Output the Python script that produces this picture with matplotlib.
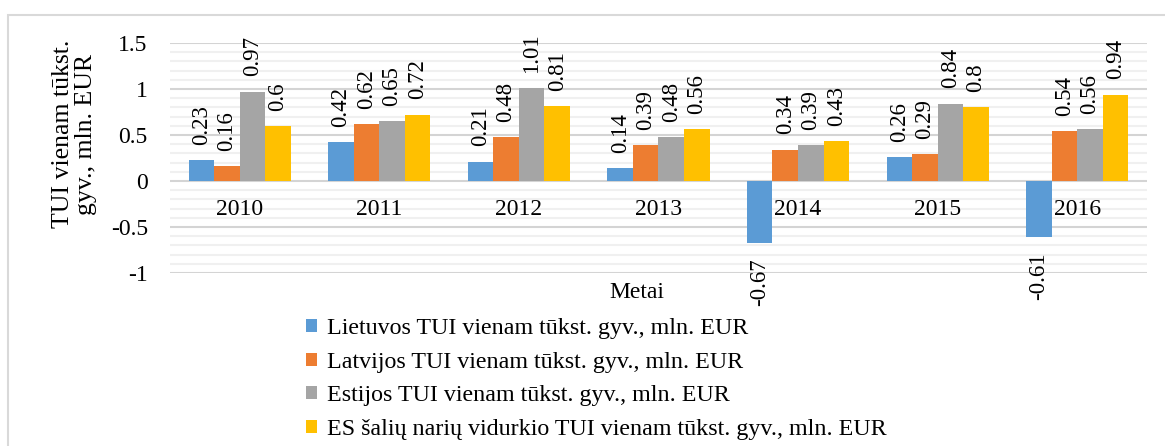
import numpy as np
import matplotlib.pyplot as plt
from matplotlib.patches import Rectangle

plt.rcParams['font.family'] = ['Liberation Serif', 'DejaVu Serif']

years = ["2010", "2011", "2012", "2013", "2014", "2015", "2016"]
lietuva = [0.23, 0.42, 0.21, 0.14, -0.67, 0.26, -0.61]
latvija = [0.16, 0.62, 0.48, 0.39, 0.34, 0.29, 0.54]
estija = [0.97, 0.65, 1.01, 0.48, 0.39, 0.84, 0.56]
es_vid = [0.6, 0.72, 0.81, 0.56, 0.43, 0.8, 0.94]

names = ["Lietuvos TUI vienam tūkst. gyv., mln. EUR",
         "Latvijos TUI vienam tūkst. gyv., mln. EUR",
         "Estijos TUI vienam tūkst. gyv., mln. EUR",
         "ES šalių narių vidurkio TUI vienam tūkst. gyv., mln. EUR"]
colors = ["#5B9BD5", "#ED7D31", "#A5A5A5", "#FFC000"]

fs = 17
fig = plt.figure(figsize=(11.65, 4.46), dpi=100)
ax = fig.add_axes([0.1459, 0.3879, 0.8386, 0.5157])

x = np.arange(len(years))
w = 0.183
series = [lietuva, latvija, estija, es_vid]
for k, (vals, c, n) in enumerate(zip(series, colors, names)):
    bars = ax.bar(x + (k - 1.5) * w, vals, w, color=c, label=n, zorder=3)
    ax.bar_label(bars, labels=["%g" % v for v in vals], rotation=90,
                 padding=11, fontsize=16.5)

ax.set_xlim(-0.5, 6.5)
ax.set_ylim(-1, 1.5)
ax.set_yticks(np.arange(-1, 1.51, 0.5))
ax.set_yticklabels(["-1", "-0.5", "0", "0.5", "1", "1.5"])
ax.set_yticks(np.arange(-1, 1.51, 0.1), minor=True)
ax.grid(axis='y', which='major', color='#d4d4d4', linewidth=1.5, zorder=0)
ax.grid(axis='y', which='minor', color='#f0f0f0', linewidth=1.5, zorder=0)
ax.set_xticks(x)
ax.set_xticklabels(years)
ax.xaxis.set_zorder(4)
ax.spines['bottom'].set_position(('data', 0))
for s in ['top', 'right', 'left', 'bottom']:
    ax.spines[s].set_visible(False)
ax.tick_params(axis='x', length=0, pad=13, labelsize=fs)
ax.tick_params(axis='y', which='both', length=0, pad=16, labelsize=fs)

fig.text(0.5468, 0.345, "Metai", ha='center', va='center', fontsize=fs)
fig.text(0.064, 0.6996, "TUI vienam tūkst.\ngyv., mln. EUR", rotation=90,
         ha='center', va='center', multialignment='center', fontsize=18.5,
         linespacing=1.1)

fig.legend(loc='upper left', bbox_to_anchor=(0.263, 0.286), frameon=False,
           fontsize=17.3, handlelength=0.45, handleheight=0.45,
           handletextpad=0.4, labelspacing=0.52, borderaxespad=0,
           borderpad=0)

fig.patches.append(Rectangle((8 / 1165, -0.1), 1.2, 1 - 15 / 446 + 0.1,
                             transform=fig.transFigure, fill=False,
                             edgecolor='#d9d9d9', linewidth=1.5))

fig.savefig("out.png", dpi=100)
